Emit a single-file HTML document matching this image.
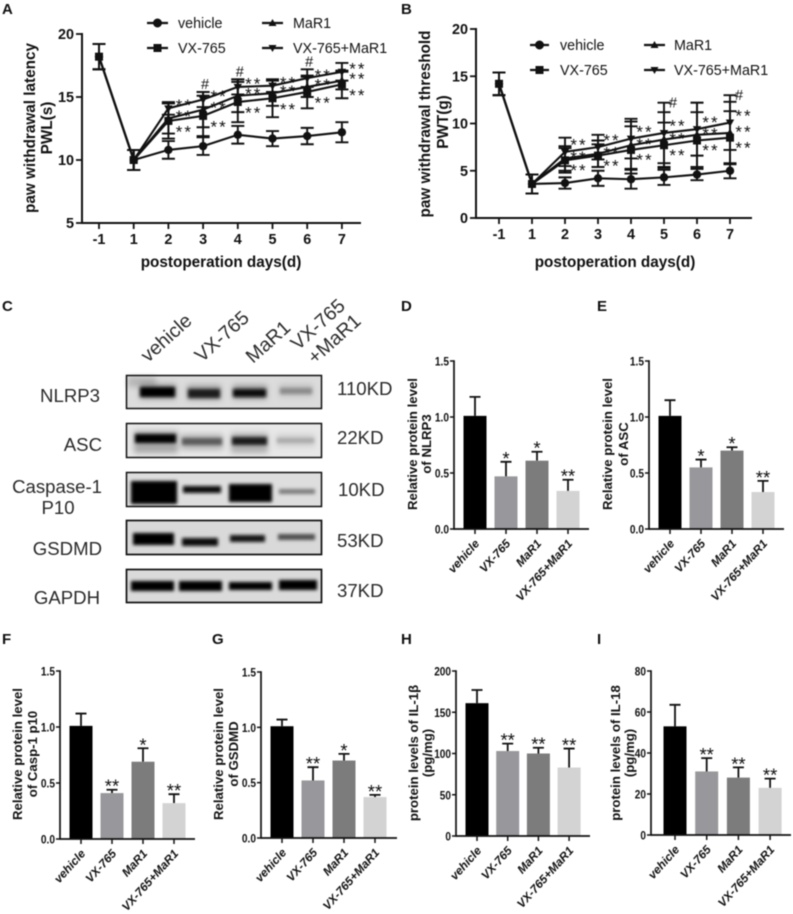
<!DOCTYPE html>
<html lang="en">
<head>
<meta charset="utf-8">
<title>Panels A to I: pain behaviour, western blots and protein levels</title>
<style>
html,body{margin:0;padding:0;background:#fff;width:793px;height:914px;overflow:hidden}
svg{display:block;filter:blur(.4px)}
text{font-family:"Liberation Sans",Arial,sans-serif;fill:#111}
.letter{font-size:15px;font-weight:bold}
.wb{font-size:18.6px;fill:#2a2a2a}
.lane{font-size:19.5px;fill:#2a2a2a}
.leg{font-size:14.3px;fill:#111}
.ttl{font-size:15.3px;font-weight:bold}
.bt{font-size:13.2px;font-weight:bold;text-anchor:middle}
</style>
</head>
<body>
<svg id="fig" width="793" height="914" viewBox="0 0 793 914" xmlns="http://www.w3.org/2000/svg">
<defs>
<filter id="bl" x="-20%" y="-60%" width="140%" height="220%"><feGaussianBlur stdDeviation="1.7"/></filter>
<filter id="bl2" x="-20%" y="-80%" width="140%" height="260%"><feGaussianBlur stdDeviation="3"/></filter>
</defs>
<rect width="793" height="914" fill="#fff"/>

<text class="letter" x="2" y="14">A</text>
<text class="letter" x="401" y="14">B</text>
<text class="letter" x="2" y="311">C</text>
<text class="letter" x="401" y="311">D</text>
<text class="letter" x="597" y="311">E</text>
<text class="letter" x="2" y="644">F</text>
<text class="letter" x="212" y="644">G</text>
<text class="letter" x="401" y="644">H</text>
<text class="letter" x="597" y="644">I</text>

<!-- Legend A -->
<g stroke="#111" fill="#111">
  <g><line x1="147" y1="23" x2="168" y2="23" stroke-width="2.2"/><circle cx="157.500" cy="23" r="4"/><text class="leg" x="178" y="28" stroke="none">vehicle</text></g>
  <g><line x1="262" y1="23" x2="283" y2="23" stroke-width="2.2"/><path d="M272.500 19l4 7h-8z" stroke="none"/><text class="leg" x="293" y="28" stroke="none">MaR1</text></g>
  <g><line x1="147" y1="48" x2="168" y2="48" stroke-width="2.2"/><rect x="153.500" y="44" width="8" height="8" stroke="none"/><text class="leg" x="178" y="53" stroke="none">VX-765</text></g>
  <g><line x1="262" y1="48" x2="283" y2="48" stroke-width="2.2"/><path d="M272.500 52l4 -7h-8z" stroke="none"/><text class="leg" x="293" y="53" stroke="none">VX-765+MaR1</text></g>
</g>
<!-- Legend B -->
<g stroke="#111" fill="#111">
  <g><line x1="530" y1="45" x2="549" y2="45" stroke-width="2.2"/><circle cx="539.500" cy="45" r="4"/><text class="leg" x="560" y="50" stroke="none">vehicle</text></g>
  <g><line x1="644" y1="45" x2="665" y2="45" stroke-width="2.2"/><path d="M654.500 41l4 7h-8z" stroke="none"/><text class="leg" x="674" y="50" stroke="none">MaR1</text></g>
  <g><line x1="530" y1="70" x2="549" y2="70" stroke-width="2.2"/><rect x="535.500" y="66" width="8" height="8" stroke="none"/><text class="leg" x="560" y="75" stroke="none">VX-765</text></g>
  <g><line x1="644" y1="70" x2="665" y2="70" stroke-width="2.2"/><path d="M654.500 74l4 -7h-8z" stroke="none"/><text class="leg" x="674" y="75" stroke="none">VX-765+MaR1</text></g>
</g>

<!-- Line chart titles -->
<text class="ttl" x="221" y="267" text-anchor="middle">postoperation days(d)</text>
<text class="ttl" text-anchor="middle" transform="translate(35 128) rotate(-90)">paw withdrawal latency</text>
<text class="ttl" text-anchor="middle" transform="translate(52 128) rotate(-90)">PWL(s)</text>
<text class="ttl" x="615" y="267" text-anchor="middle">postoperation days(d)</text>
<text class="ttl" text-anchor="middle" transform="translate(430 124) rotate(-90)">paw withdrawal threshold</text>
<text class="ttl" text-anchor="middle" transform="translate(448 122) rotate(-90)">PWT(g)</text>

<!-- Western blot panel -->
<g>
  <text class="lane" transform="translate(148 363) rotate(-42)">vehicle</text>
  <text class="lane" transform="translate(202 363) rotate(-42)">VX-765</text>
  <text class="lane" transform="translate(253 364) rotate(-42)">MaR1</text>
  <text class="lane" transform="translate(298 351) rotate(-42)">VX-765</text>
  <text class="lane" transform="translate(315 365) rotate(-42)">+MaR1</text>
  <text class="wb" x="100" y="402" text-anchor="end">NLRP3</text>
  <text class="wb" x="102" y="451" text-anchor="end">ASC</text>
  <text class="wb" x="102" y="493" text-anchor="end">Caspase-1</text>
  <text class="wb" x="58" y="514" text-anchor="middle">P10</text>
  <text class="wb" x="102" y="555" text-anchor="end">GSDMD</text>
  <text class="wb" x="100" y="604" text-anchor="end">GAPDH</text>
  <text class="wb" x="337" y="395">110KD</text>
  <text class="wb" x="337" y="444">22KD</text>
  <text class="wb" x="338" y="496">10KD</text>
  <text class="wb" x="337" y="547">53KD</text>
  <text class="wb" x="337" y="597">37KD</text>

  <g>
    <rect x="126" y="375" width="196" height="34" fill="#dcdcdc"/>
    <rect x="128" y="377" width="28" height="10" fill="#b5b5b5" filter="url(#bl2)"/>
    <g filter="url(#bl2)" opacity=".5">
      <rect x="140" y="384" width="36" height="15" fill="#555"/>
      <rect x="187" y="385" width="34" height="15" fill="#666"/>
      <rect x="233" y="385" width="34" height="14" fill="#555"/>
      <rect x="279" y="384" width="34" height="13" fill="#aaa"/>
    </g>
    <g filter="url(#bl)">
      <rect x="140" y="387" width="35" height="10" fill="#000"/>
      <rect x="188" y="389" width="32" height="9" fill="#1c1c1c"/>
      <rect x="233" y="389" width="33" height="8" fill="#0a0a0a"/>
      <rect x="280" y="388" width="32" height="6" fill="#8a8a8a"/>
    </g>
    <rect x="126.500" y="375.500" width="195" height="33" fill="none" stroke="#111" stroke-width="1.500"/>
  </g>
  <g>
    <rect x="126" y="423" width="196" height="35" fill="#e8e8e8"/>
    <g filter="url(#bl2)" opacity=".5">
      <rect x="134" y="431" width="44" height="22" fill="#666"/>
      <rect x="181" y="434" width="42" height="16" fill="#888"/>
      <rect x="231" y="433" width="37" height="20" fill="#777"/>
      <rect x="276" y="434" width="39" height="13" fill="#bbb"/>
    </g>
    <g filter="url(#bl)">
      <rect x="135" y="434" width="41" height="9" fill="#050505"/>
      <rect x="182" y="438" width="40" height="7" fill="#5c5c5c"/>
      <rect x="232" y="437" width="35" height="8" fill="#1a1a1a"/>
      <rect x="277" y="438" width="37" height="5" fill="#aaa"/>
    </g>
    <rect x="126.500" y="423.500" width="195" height="34" fill="none" stroke="#111" stroke-width="1.500"/>
  </g>
  <g>
    <rect x="126" y="472" width="196" height="35" fill="#dedede"/>
    <g filter="url(#bl)">
      <rect x="131" y="481" width="46" height="23" fill="#000"/>
      <rect x="183" y="486" width="38" height="7" fill="#111"/>
      <rect x="229" y="484" width="43" height="18" fill="#000"/>
      <rect x="279" y="489" width="36" height="5" fill="#7e7e7e"/>
    </g>
    <rect x="126.500" y="472.500" width="195" height="34" fill="none" stroke="#111" stroke-width="1.500"/>
  </g>
  <g>
    <rect x="126" y="520" width="196" height="35" fill="#d9d9d9"/>
    <g filter="url(#bl)">
      <rect x="133" y="533" width="41" height="12" fill="#000"/>
      <rect x="182" y="538" width="36" height="8" fill="#0a0a0a"/>
      <rect x="230" y="535" width="35" height="7" fill="#141414"/>
      <rect x="278" y="534" width="37" height="6" fill="#505050"/>
    </g>
    <rect x="126.500" y="520.500" width="195" height="34" fill="none" stroke="#111" stroke-width="1.700"/>
  </g>
  <g>
    <rect x="126" y="569" width="196" height="34" fill="#dadada"/>
    <g filter="url(#bl)">
      <rect x="131" y="581" width="43" height="10" fill="#000"/>
      <rect x="179" y="581" width="43" height="10" fill="#000"/>
      <rect x="229" y="582" width="43" height="8" fill="#050505"/>
      <rect x="279" y="580" width="38" height="10" fill="#000"/>
    </g>
    <rect x="126.500" y="569.500" width="195" height="33" fill="none" stroke="#111" stroke-width="1.700"/>
  </g>
</g>

<!-- Bar chart y titles -->
<text class="bt" transform="translate(417 444) rotate(-90)">Relative protein level</text>
<text class="bt" transform="translate(431 444) rotate(-90)">of NLRP3</text>
<text class="bt" transform="translate(612 444) rotate(-90)">Relative protein level</text>
<text class="bt" transform="translate(628 444) rotate(-90)">of ASC</text>
<text class="bt" transform="translate(22 754) rotate(-90)">Relative protein level</text>
<text class="bt" transform="translate(37 754) rotate(-90)">of Casp-1 p10</text>
<text class="bt" transform="translate(223 754) rotate(-90)">Relative protein level</text>
<text class="bt" transform="translate(238 754) rotate(-90)">of GSDMD</text>
<text class="bt" transform="translate(418 753) rotate(-90)">protein levels of IL-1β</text>
<text class="bt" transform="translate(432 753) rotate(-90)">(pg/mg)</text>
<text class="bt" transform="translate(620 753) rotate(-90)">protein levels of IL-18</text>
<text class="bt" transform="translate(634 753) rotate(-90)">(pg/mg)</text>
</svg>

<script>
/* ---------- line chart data ---------- */
const dayLabels = ['-1','1','2','3','4','5','6','7'];

const pwlTicks = ['5','10','15','20'];
const pwlVehicle = [18.2,10,10.8,11.1,12,11.7,11.9,12.2];
const pwlVehicleErr = [1,0.8,0.7,0.7,0.7,0.6,0.65,0.8];
const pwlVx = [18.2,10,13.1,13.5,14.6,14.9,15.4,16];
const pwlVxErr = [1,0.8,1.4,1.6,1.6,1.5,1.3,1.1];
const pwlMar = [18.2,10,13.3,14,15.1,15.3,15.8,16.3];
const pwlMarErr = [1,0.8,1.2,1.4,1.3,1,0.8,0.7];
const pwlCombo = [18.2,10,14.1,14.8,15.8,15.9,16.5,17];
const pwlComboErr = [1,0.8,0.5,0.6,0.6,0.5,0.7,0.7];
const pwlHash = ['','','','#','#','','#',''];

const pwtTicks = ['0','5','10','15','20'];
const pwtVehicle = [14.2,3.6,3.7,4.2,4.1,4.3,4.6,5];
const pwtVehicleErr = [1.2,1,0.6,0.8,1,0.8,0.6,0.8];
const pwtVx = [14.2,3.6,6.1,6.6,7.2,7.7,8.2,8.5];
const pwtVxErr = [1.2,1,1.3,1.2,2.5,2.4,3,2.8];
const pwtMar = [14.2,3.6,6.3,6.8,7.7,8.3,8.8,9];
const pwtMarErr = [1.2,1,1.3,1.4,2.5,2.9,3.4,3.3];
const pwtCombo = [14.2,3.6,7,7.5,8.4,9,9.4,10.1];
const pwtComboErr = [1.2,1,1.5,1.3,2.1,3.2,2.8,2.9];
const pwtHash = ['','','','','','#','','#'];

const sigStars = ['','','**','**','**','**','**','**'];

/* ---------- bar chart data ---------- */
const barCategories = ['vehicle','VX-765','MaR1','VX-765+MaR1'];
const relTicks = ['0.0','0.5','1.0','1.5'];
const il1bTicks = ['0','50','100','150','200'];
const il18Ticks = ['0','20','40','60','80'];

const nlrp3Means = [1.01,0.47,0.61,0.34];
const nlrp3Errs = [0.17,0.13,0.08,0.10];
const nlrp3Sig = ['','*','*','**'];

const ascMeans = [1.01,0.55,0.70,0.33];
const ascErrs = [0.14,0.07,0.03,0.10];
const ascSig = ['','*','*','**'];

const caspMeans = [1.01,0.41,0.69,0.32];
const caspErrs = [0.11,0.03,0.12,0.08];
const caspSig = ['','**','*','**'];

const gsdmdMeans = [1.01,0.52,0.70,0.37];
const gsdmdErrs = [0.06,0.12,0.06,0.02];
const gsdmdSig = ['','**','*','**'];

const il1bMeans = [161,103,100,83];
const il1bErrs = [16,9,7,23];
const il1bSig = ['','**','**','**'];

const il18Means = [53,31,28,23];
const il18Errs = [10.5,6.5,5,4.5];
const il18Sig = ['','**','**','**'];

/* ---------- helpers ---------- */
const NS = 'http://www.w3.org/2000/svg';
const root = document.getElementById('fig');
function add(tag, attrs, parent) {
  const el = document.createElementNS(NS, tag);
  for (const k in attrs) el.setAttribute(k, attrs[k]);
  (parent || root).appendChild(el);
  return el;
}
function scale(d0, d1, r0, r1) {
  return v => r0 + (v - d0) * (r1 - r0) / (d1 - d0);
}
function slug(s) { return s.toLowerCase().replace(/[^a-z0-9]+/g, '-'); }

function drawLineChart(id, layout, ticks, hashes, series) {
  const g = add('g', {});
  
  
  const nums = ticks.map(Number);
  const y = scale(nums[0], nums[nums.length - 1], layout.yBottom, layout.yTop);
  const x = i => layout.x0 + i * layout.step;

  const xAxis = add('line', {x1: layout.axisX, y1: layout.yBottom, x2: layout.axisEnd, y2: layout.yBottom, stroke: '#111', 'stroke-width': 2}, g);
  
  
  const yAxis = add('line', {x1: layout.axisX, y1: layout.yTop - 1, x2: layout.axisX, y2: layout.yBottom + 1, stroke: '#111', 'stroke-width': 2}, g);
  
  

  ticks.forEach(t => {
    const yy = y(Number(t));
    const tick = add('line', {x1: layout.axisX - 6, y1: yy, x2: layout.axisX, y2: yy, stroke: '#111', 'stroke-width': 1.8}, g);
    
    
    const lab = add('text', {x: layout.axisX - 8, y: yy + 5, 'text-anchor': 'end', 'font-size': 14.4, 'font-weight': 'bold'}, g);
    lab.textContent = t;
    
    
  });
  dayLabels.forEach((d, i) => {
    const tick = add('line', {x1: x(i), y1: layout.yBottom, x2: x(i), y2: layout.yBottom + 6, stroke: '#111', 'stroke-width': 1.8}, g);
    
    
    const lab = add('text', {x: x(i), y: layout.xLabelY, 'text-anchor': 'middle', 'font-size': 14.4, 'font-weight': 'bold'}, g);
    lab.textContent = d;
    
    
  });

  series.forEach(s => {
    const sg = add('g', {}, g);
    
    
    s.values.forEach((v, i) => {
      const top = y(v + s.errs[i]), bot = y(v - s.errs[i]), cx = x(i);
      const eb = add('path', {d: 'M' + (cx - 6.5) + ' ' + top + 'H' + (cx + 6.5) + 'M' + cx + ' ' + top + 'V' + bot + 'M' + (cx - 6.5) + ' ' + bot + 'H' + (cx + 6.5), fill: 'none', stroke: '#111', 'stroke-width': 1.9}, sg);
      
      
    });
    const line = add('polyline', {points: s.values.map((v, i) => x(i) + ',' + y(v)).join(' '), fill: 'none', stroke: '#111', 'stroke-width': 2.1}, sg);
    
    
    s.values.forEach((v, i) => {
      const cx = x(i), cy = y(v);
      let m;
      if (s.marker === 'circle') m = add('circle', {cx: cx, cy: cy, r: 4.2, fill: '#111'}, sg);
      if (s.marker === 'square') m = add('rect', {x: cx - 4, y: cy - 4, width: 8, height: 8, fill: '#111'}, sg);
      if (s.marker === 'up') m = add('path', {d: 'M' + cx + ' ' + (cy - 4.5) + 'l4.2 7.5h-8.4z', fill: '#111'}, sg);
      if (s.marker === 'down') m = add('path', {d: 'M' + cx + ' ' + (cy + 4.5) + 'l4.2 -7.5h-8.4z', fill: '#111'}, sg);
      
      
    });
    if (s.stars) {
      s.stars.forEach((txt, i) => {
        if (!txt) return;
        const st = add('text', {x: x(i) + s.dx, y: y(s.values[i]) + s.dy + 9.7, 'text-anchor': 'middle', 'font-size': 17, 'letter-spacing': 2}, sg);
        st.textContent = txt;
        
        
      });
    }
  });

  const combo = series[series.length - 1];
  hashes.forEach((txt, i) => {
    if (!txt) return;
    const h = add('text', {x: x(i) + layout.hashDx, y: y(combo.values[i] + combo.errs[i]) + layout.hashDy, 'text-anchor': 'middle', 'font-size': 14.5}, g);
    h.textContent = txt;
    
    
  });
}

const barFills = ['#000000','#98989c','#7c7c7c','#d3d3d3'];

function drawBarChart(id, layout, ticks, means, errs, sig) {
  const g = add('g', {});
  
  
  const nums = ticks.map(Number);
  const y = scale(nums[0], nums[nums.length - 1], layout.yBottom, layout.yTop);
  const x = i => layout.x0 + i * layout.step;

  means.forEach((v, i) => {
    const cx = x(i), top = y(v), et = y(v + errs[i]);
    const eb = add('path', {d: 'M' + cx + ' ' + top + 'V' + et + 'M' + (cx - 5.5) + ' ' + et + 'H' + (cx + 5.5), fill: 'none', stroke: '#111', 'stroke-width': 1.8}, g);
    
    
    const bar = add('rect', {x: cx - 11.5, y: top, width: 23, height: layout.yBottom - top, fill: barFills[i]}, g);
    
    
    if (sig[i]) {
      const st = add('text', {x: cx, y: et + 3, 'text-anchor': 'middle', 'font-size': 18.5}, g);
      st.textContent = sig[i];
      
      
    }
    const tick = add('line', {x1: cx, y1: layout.yBottom, x2: cx, y2: layout.yBottom + 5, stroke: '#111', 'stroke-width': 1.5}, g);
    
    
    const lab = add('text', {'text-anchor': 'end', 'font-size': 11.8, 'font-weight': 'bold', 'font-style': 'italic', transform: 'translate(' + (cx + 5) + ' ' + (layout.yBottom + 15) + ') rotate(-48)'}, g);
    lab.textContent = barCategories[i];
    
    
  });

  const xAxis = add('line', {x1: layout.axisX, y1: layout.yBottom, x2: layout.axisEnd, y2: layout.yBottom, stroke: '#111', 'stroke-width': 1.7}, g);
  
  
  const yAxis = add('line', {x1: layout.axisX, y1: layout.yTop - 0.8, x2: layout.axisX, y2: layout.yBottom + 0.8, stroke: '#111', 'stroke-width': 1.7}, g);
  
  

  ticks.forEach(t => {
    const yy = y(Number(t));
    const tick = add('line', {x1: layout.axisX - 4, y1: yy, x2: layout.axisX, y2: yy, stroke: '#111', 'stroke-width': 1.5}, g);
    
    
    const digits = t.replace('.', '').length;
    const dots = t.length - digits;
    const lab = add('text', {x: layout.axisX - 5, y: yy + 4.5, 'text-anchor': 'end', 'font-size': 12, 'font-weight': 'bold', lengthAdjust: 'spacingAndGlyphs', textLength: digits * 5.6 + dots * 2.9}, g);
    lab.textContent = t;
    
    
  });
}

/* ---------- draw ---------- */
drawLineChart('pwl', {axisX: 82, axisEnd: 361, yTop: 34, yBottom: 223, x0: 99, step: 34.7, xLabelY: 244, hashDx: 2, hashDy: -3}, pwlTicks, pwlHash, [
  {name: 'vehicle', marker: 'circle', values: pwlVehicle, errs: pwlVehicleErr},
  {name: 'vx-765', marker: 'square', values: pwlVx, errs: pwlVxErr, stars: sigStars, dx: 16, dy: 7},
  {name: 'mar1', marker: 'up', values: pwlMar, errs: pwlMarErr, stars: sigStars, dx: 16, dy: -6},
  {name: 'vx-765-mar1', marker: 'down', values: pwlCombo, errs: pwlComboErr, stars: sigStars, dx: 16, dy: -7}
]);
drawLineChart('pwt', {axisX: 476, axisEnd: 752, yTop: 29, yBottom: 218, x0: 499, step: 33, xLabelY: 239, hashDx: 9, hashDy: 5}, pwtTicks, pwtHash, [
  {name: 'vehicle', marker: 'circle', values: pwtVehicle, errs: pwtVehicleErr},
  {name: 'vx-765', marker: 'square', values: pwtVx, errs: pwtVxErr, stars: sigStars, dx: 14, dy: 6},
  {name: 'mar1', marker: 'up', values: pwtMar, errs: pwtMarErr, stars: sigStars, dx: 14, dy: -5},
  {name: 'vx-765-mar1', marker: 'down', values: pwtCombo, errs: pwtComboErr, stars: sigStars, dx: 14, dy: -11}
]);

drawBarChart('nlrp3', {axisX: 454, axisEnd: 589, yTop: 361, yBottom: 529, x0: 475, step: 31}, relTicks, nlrp3Means, nlrp3Errs, nlrp3Sig);
drawBarChart('asc', {axisX: 649, axisEnd: 784, yTop: 361, yBottom: 529, x0: 670, step: 31}, relTicks, ascMeans, ascErrs, ascSig);
drawBarChart('casp-1-p10', {axisX: 60, axisEnd: 195, yTop: 671, yBottom: 839, x0: 81, step: 31}, relTicks, caspMeans, caspErrs, caspSig);
drawBarChart('gsdmd', {axisX: 261, axisEnd: 397, yTop: 672, yBottom: 838, x0: 282, step: 31}, relTicks, gsdmdMeans, gsdmdErrs, gsdmdSig);
drawBarChart('il-1b', {axisX: 456, axisEnd: 590, yTop: 671, yBottom: 836, x0: 477, step: 30.7}, il1bTicks, il1bMeans, il1bErrs, il1bSig);
drawBarChart('il-18', {axisX: 651, axisEnd: 791, yTop: 671, yBottom: 835, x0: 675, step: 31.7}, il18Ticks, il18Means, il18Errs, il18Sig);
</script>
</body>
</html>
